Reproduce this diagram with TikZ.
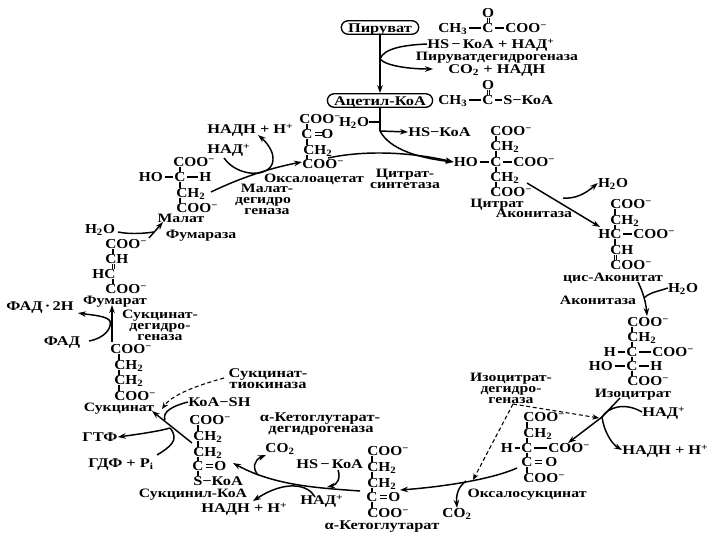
\documentclass[tikz,border=0pt]{standalone}
\usepackage{fontspec}
\setmainfont{Liberation Serif}[FakeStretch=1.12]
\newfontfamily\widef{Liberation Serif}[FakeStretch=1.23]
\usetikzlibrary{arrows.meta,calc}
\newcommand\cm{\textsuperscript{−}}
\newcommand\cp{\textsuperscript{+}}
\newcommand\two{\textsubscript{2}}
\newcommand\three{\textsubscript{3}}
\newcommand\bnd[3]{\draw[bond] (#1.south -| #3,0) -- (#2.north -| #3,0);}
\newcommand\dbl[3]{\draw[bond,line width=0.45pt] (#1.south -| #3-1.2,0) -- (#2.north -| #3-1.2,0);\draw[bond,line width=0.45pt] (#1.south -| #3+1.2,0) -- (#2.north -| #3+1.2,0);}
\newcommand\hb[2]{\draw[bond] ($(#1.east)+(1.5,0)$) -- ($(#2.west)+(-1.5,0)$);}
\tikzset{
  lab/.style={inner sep=0pt,text height=7.3pt,text depth=0pt,font=\fontsize{10.3pt}{11pt}\selectfont\bfseries,anchor=center},
  lw/.style={lab,anchor=west},
  le/.style={lab,anchor=east},
  txt/.style={lab,font=\widef\fontsize{9.6pt}{11pt}\selectfont\bfseries},
  txtb/.style={lab,font=\widef\fontsize{10pt}{11pt}\selectfont\bfseries},
  lwr/.style={txtb,anchor=west},
  box/.style={draw=black,line width=1pt,rounded corners=5pt,inner xsep=5pt,inner ysep=1.4pt,text height=7.3pt,text depth=0pt,font=\widef\fontsize{10pt}{11pt}\selectfont\bfseries},
  bond/.style={line width=0.9pt,draw=black},
  flow/.style={line width=1.1pt,draw=black,-{Stealth[length=6pt,width=4.2pt]}},
  plain/.style={line width=1.1pt,draw=black},
  dashflow/.style={line width=0.8pt,draw=black,dash pattern=on 3pt off 2pt,-{Stealth[length=5pt,width=4pt]}},
}
\begin{document}
\begin{tikzpicture}[x=0.75pt,y=-0.75pt]
\useasboundingbox (0,0) rectangle (720,540);
% ---- top
\node[box] (pir) at (380,27.5) {Пируват};
\node[box] (ace) at (380,100.5) {Ацетил-КоА};
\node[lw] (p1) at (438,28) {CH\three};
\node[lab] (p2) at (488,28) {C};
\node[lw] (p3) at (505,28) {COO\cm};
\node[lab] (p0) at (488,13) {O};
\dbl{p0}{p2}{488}\hb{p1}{p2}\hb{p2}{p3}
\node[lwr] (hs1) at (427,44) {HS\,−\,КоА + НАД\cp};
\node[txt] (pdh) at (497,56) {Пируватдегидрогеназа};
\node[lwr] (co1) at (448,69) {CO\two\ + НАДН};
\node[lw] (a1) at (438,100) {CH\three};
\node[lab] (a2) at (488,100) {C};
\node[lwr] (a3) at (503,100) {S−КоА};
\node[lab] (a0) at (488,85) {O};
\dbl{a0}{a2}{488}\hb{a1}{a2}\hb{a2}{a3}
\draw[flow] (pir) -- (ace);
\coordinate (j1) at (380,59);
\coordinate (j1e) at (433,69);
\draw[plain] (hs1.west) .. controls (405,45) and (384,48) .. (j1);
\draw[flow] (j1) .. controls (386,66) and (410,69) .. (j1e);
% ---- citrate
\node[lab] (w1) at (354,122) {H\two O};
\coordinate (j2) at (380,131);
\coordinate (j2t) at (380,122);
\draw[plain] (ace) -- (j2);
\draw[plain] (w1.east) -- (j2t);
\node[lwr] (hs2) at (408,132) {HS−КоА};
\draw[flow] (j2) -- (hs2.west);
\node[lw] (c1) at (490,131) {COO\cm};
\node[lw] (c2) at (490,146) {CH\two};
\node[lab] (c3) at (496,162) {C};
\node[le] (c3l) at (478,162) {HO};
\node[lw] (c3r) at (513,162) {COO\cm};
\node[lw] (c4) at (490,177) {CH\two};
\node[lw] (c5) at (490,192) {COO\cm};
\node[txt] (c6) at (497,203) {Цитрат};
\bnd{c1}{c2}{496}\bnd{c2}{c3}{496}\bnd{c3}{c4}{496}\bnd{c4}{c5}{496}
\hb{c3l}{c3}\hb{c3}{c3r}
\draw[flow] (j2) .. controls (390,150) and (420,158) .. (c3l.west);
\node[txt] (cs1) at (405,173) {Цитрат-};
\node[txt] (cs2) at (405,184) {синтетаза};
% ---- oxaloacetate
\node[lw] (o1) at (299,119) {COO\cm};
\node[lab] (o2) at (307,134) {C};
\node[lw] (o2r) at (321,134) {O};
\node[lw] (o3) at (303,150) {CH\two};
\node[lw] (o4) at (302,164) {COO\cm};
\bnd{o1}{o2}{307}\bnd{o2}{o3}{307}\bnd{o3}{o4}{307}
\draw[bond,line width=0.5pt] ($(o2.east)+(2,-1.2)$) -- ++(7,0);
\draw[bond,line width=0.5pt] ($(o2.east)+(2,1.2)$) -- ++(7,0);
\node[txt] (o5) at (314,177.5) {Оксалоацетат};
\coordinate (oxs) at (328,158);
\draw[flow] (oxs) .. controls (365,150) and (410,152) .. (c3l.west);
% ---- malate
\node[lw] (m1) at (173,162) {COO\cm};
\node[lab] (m2) at (180,177) {C};
\node[le] (m2l) at (163,177) {HO};
\node[lw] (m2r) at (199,177) {H};
\node[lw] (m3) at (176,193) {CH\two};
\node[lw] (m4) at (176,208) {COO\cm};
\node[txt] (m5) at (181,218) {Малат};
\bnd{m1}{m2}{180}\bnd{m2}{m3}{180}\bnd{m3}{m4}{180}
\hb{m2l}{m2}\hb{m2}{m2r}
\coordinate (mg) at (211,192);
\coordinate (og) at (302,162);
\draw[flow] (mg) .. controls (240,178) and (270,168) .. (og);
\node[lwr] (nh) at (207,129) {НАДН + Н\cp};
\node[lwr] (na) at (207,149) {НАД\cp};
\coordinate (na2) at (224,158);
\coordinate (nh2) at (258,135);
\draw[flow] (na2) .. controls (238,178) and (272,178) .. (273,160) .. controls (274,150) and (264,140) .. (nh2);
\node[txt] (md1) at (267,188) {Малат-};
\node[txt] (md2) at (263,199) {дегидро};
\node[txt] (md3) at (267,209.5) {геназа};
% ---- fumarate
\node[lab] (wf) at (100,229) {H\two O};
\node[txt] (fz) at (201,234) {Фумараза};
\node[lw] (f1) at (105,244) {COO\cm};
\node[lw] (f2) at (105,259) {CH};
\node[lab] (f3) at (104,274) {HC};
\node[lw] (f4) at (105,289) {COO\cm};
\node[txt] (f5) at (115,300) {Фумарат};
\bnd{f1}{f2}{113}
\dbl{f2}{f3}{113}
\bnd{f3}{f4}{113}
\coordinate (fa) at (149,238);
\coordinate (fb) at (163,222);
\draw[flow] (fa) -- (fb);
\coordinate (wfe) at (154,232);
\coordinate (wfs) at (118,232);
\draw[plain] (wfs) .. controls (128,234) and (140,234) .. (wfe);
% ---- succinate
\node[txtb] (fd2) at (40,306) {ФАД\,·\,2Н};
\node[txtb] (fd) at (62,341) {ФАД};
\node[txt] (sd1) at (160,314) {Сукцинат-};
\node[txt] (sd2) at (160,325) {дегидро-};
\node[txt] (sd3) at (160,335.5) {геназа};
\node[lw] (s1) at (110,349) {COO\cm};
\node[lw] (s2) at (114,365) {CH\two};
\node[lw] (s3) at (114,380) {CH\two};
\node[lw] (s4) at (114,396) {COO\cm};
\node[txt] (s5) at (119,407) {Сукцинат};
\bnd{s1}{s2}{119}\bnd{s2}{s3}{119}\bnd{s3}{s4}{119}
\coordinate (st) at (112,342);
\coordinate (sh) at (112,305);
\draw[flow] (st) -- (sh);
\coordinate (fd1) at (89,341);
\coordinate (fd3) at (78,313);
\draw[flow] (fd1) .. controls (105,338) and (112,328) .. (110,321) .. controls (107,316) and (92,315) .. (fd3);
% ---- succinyl-CoA
\node[txtb] (tk1) at (268,373) {Сукцинат-};
\node[txtb] (tk2) at (268,384) {тиокиназа};
\node[lwr] (ks) at (188,402) {КоА−SH};
\node[lw] (y1) at (189,420) {COO\cm};
\node[lw] (y2) at (193,436) {CH\two};
\node[lw] (y3) at (193,452) {CH\two};
\node[lab] (y4) at (198,466) {C};
\node[lw] (y4r) at (214,466) {O};
\node[lwr] (y5) at (193,481) {S−КоА};
\node[txt] (y6) at (193,493) {Сукцинил-КоА};
\bnd{y1}{y2}{198}\bnd{y2}{y3}{198}\bnd{y3}{y4}{198}\bnd{y4}{y5}{198}
\draw[bond,line width=0.5pt] ($(y4.east)+(2,-1.2)$) -- ++(7,0);
\draw[bond,line width=0.5pt] ($(y4.east)+(2,1.2)$) -- ++(7,0);
\node[txtb] (gtp) at (100,437) {ГТФ};
\node[lwr] (gdp) at (88,463) {ГДФ + P\textsubscript{i}};
\coordinate (yg) at (192,443);
\coordinate (sg) at (152,411);
\coordinate (yj) at (170,428);
\draw[flow] (yg) -- (sg);
\draw[flow] (yj) .. controls (160,431) and (140,434) .. (gtp.east);
\coordinate (gd) at (157,455);
\draw[plain] (gd) .. controls (170,447) and (180,440) .. (yj);
\coordinate (ka) at (165,420);
\draw[plain] (ks.west) .. controls (172,406) and (162,412) .. (ka);
\coordinate (tk0) at (224,378);
\coordinate (tke) at (162,409);
\draw[dashflow] (tk0) .. controls (195,386) and (172,395) .. (tke);
% ---- alpha-ketoglutarate
\node[txtb] (kd1) at (320,416.5) {α-Кетоглутарат-};
\node[txtb] (kd2) at (321,427.5) {дегидрогеназа};
\node[lab] (cb1) at (280,448) {CO\two};
\node[lwr] (hs3) at (296,464) {HS\,−\,КоА};
\node[lwr] (nd3) at (300,500) {НАД\cp};
\node[lwr] (nh3) at (201,508) {НАДН + Н\cp};
\node[lw] (k1) at (367,451) {COO\cm};
\node[lw] (k2) at (367,467) {CH\two};
\node[lw] (k3) at (367,483) {CH\two};
\node[lab] (k4) at (372,497) {C};
\node[lw] (k4r) at (388,497) {O};
\node[lw] (k5) at (367,513) {COO\cm};
\node[txtb] (k6) at (382,525) {α-Кетоглутарат};
\bnd{k1}{k2}{372}\bnd{k2}{k3}{372}\bnd{k3}{k4}{372}\bnd{k4}{k5}{372}
\draw[bond,line width=0.5pt] ($(k4.east)+(2,-1.2)$) -- ++(7,0);
\draw[bond,line width=0.5pt] ($(k4.east)+(2,1.2)$) -- ++(7,0);
\coordinate (ks0) at (360,491);
\coordinate (ys0) at (233,463);
\draw[flow] (ks0) .. controls (320,488) and (275,486) .. (ys0);
\coordinate (cb0) at (258,475);
\coordinate (cb2) at (266,455);
\draw[flow] (cb0) .. controls (252,468) and (254,460) .. (cb2);
\coordinate (hs0) at (338,470);
\coordinate (hs4) at (327,487);
\draw[flow] (hs0) .. controls (341,478) and (337,485) .. (hs4);
\coordinate (nd0) at (315,497);
\coordinate (nh0) at (253,501);
\draw[flow] (nd0) .. controls (308,484) and (285,480) .. (nh0);
% ---- oxalosuccinate
\node[lw] (x1) at (523,417) {COO\cm};
\node[lw] (x2) at (523,433) {CH\two};
\node[lab] (x3) at (527,448) {C};
\node[le] (x3l) at (513,448) {H};
\node[lw] (x3r) at (548,448) {COO\cm};
\node[lab] (x4) at (527,462) {C};
\node[lw] (x4r) at (545,462) {O};
\node[lw] (x5) at (523,478) {COO\cm};
\node[txt] (x6) at (527,493) {Оксалосукцинат};
\bnd{x1}{x2}{527}\bnd{x2}{x3}{527}\bnd{x3}{x4}{527}\bnd{x4}{x5}{527}
\hb{x3l}{x3}\hb{x3}{x3r}
\draw[bond,line width=0.5pt] ($(x4.east)+(2,-1.2)$) -- ++(7,0);
\draw[bond,line width=0.5pt] ($(x4.east)+(2,1.2)$) -- ++(7,0);
\coordinate (x0) at (517,468);
\coordinate (ke) at (400,490);
\draw[flow] (x0) .. controls (490,480) and (440,487) .. (ke);
\node[lab] (cb3) at (457,513) {CO\two};
\coordinate (cb4) at (466,481);
\draw[flow] (cb4) .. controls (458,487) and (456,495) .. (cb3.north);
\node[txt] (id1) at (511,377) {Изоцитрат-};
\node[txt] (id2) at (511,388) {дегидро-};
\node[txt] (id3) at (511,398.5) {геназа};
\coordinate (d0) at (513,404);
\coordinate (d1) at (599,418);
\coordinate (d2) at (473,480);
\draw[dashflow] (d0) -- (d1);
\draw[dashflow] (d0) -- (d2);
% ---- isocitrate
\node[lw] (i1) at (627,322) {COO\cm};
\node[lw] (i2) at (627,337) {CH\two};
\node[lab] (i3) at (632,352) {C};
\node[le] (i3l) at (616,352) {H};
\node[lw] (i3r) at (652,352) {COO\cm};
\node[lab] (i4) at (632,366) {C};
\node[le] (i4l) at (613,366) {HO};
\node[lw] (i4r) at (650,366) {H};
\node[lw] (i5) at (627,381) {COO\cm};
\node[txt] (i6) at (633,392.5) {Изоцитрат};
\bnd{i1}{i2}{632}\bnd{i2}{i3}{632}\bnd{i3}{i4}{632}\bnd{i4}{i5}{632}
\hb{i3l}{i3}\hb{i3}{i3r}\hb{i4l}{i4}\hb{i4}{i4r}
\coordinate (i0) at (620,398);
\coordinate (xe) at (568,443);
\coordinate (ij) at (602,417);
\draw[flow] (i0) -- (ij) -- (xe);
\node[lwr] (nd4) at (642,412) {НАД\cp};
\node[lwr] (nh4) at (622,450) {НАДН + Н\cp};
\draw[plain] (nd4.west) .. controls (625,402) and (608,407) .. (ij);
\draw[flow] (ij) .. controls (604,432) and (612,444) .. (nh4.west);
% ---- cis-aconitate
\node[lw] (q1) at (610,204) {COO\cm};
\node[lw] (q2) at (610,220) {CH\two};
\node[lab] (q3) at (610,234) {HC};
\node[lw] (q3r) at (633,234) {COO\cm};
\node[lw] (q4) at (610,250) {CH};
\node[lw] (q5) at (610,265) {COO\cm};
\node[txt] (q6) at (613,276.5) {цис-Аконитат};
\bnd{q1}{q2}{615}\bnd{q2}{q3}{615}\bnd{q3}{q4}{615}\dbl{q4}{q5}{615}
\hb{q3}{q3r}
\node[txt] (ak1) at (534,213) {Аконитаза};
\node[lab] (w2) at (613,183) {H\two O};
\coordinate (c0) at (527,183);
\coordinate (qe) at (600,227);
\draw[flow] (c0) -- (qe);
\coordinate (cj) at (563,198);
\draw[flow] (cj) .. controls (575,199) and (585,194) .. (w2.west);
% ---- aconitase 2
\node[txt] (ak2) at (598,300) {Аконитаза};
\node[lab] (w3) at (683,288) {H\two O};
\coordinate (q0) at (638,282);
\coordinate (ie) at (647,316);
\draw[flow] (q0) .. controls (643,292) and (646,303) .. (ie);
\coordinate (qj) at (644,298);
\draw[plain] (w3.west) .. controls (660,291) and (650,292) .. (qj);
\end{tikzpicture}
\end{document}
